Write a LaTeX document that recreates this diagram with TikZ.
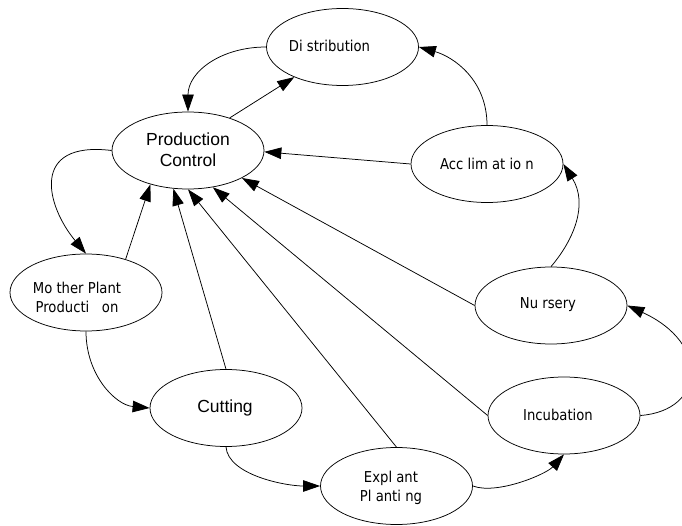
\documentclass[tikz,border=0pt]{standalone}
\usepackage{fontspec}
\usetikzlibrary{shapes.geometric,arrows.meta}
\newfontfamily\arialf{Liberation Sans}
\newfontfamily\tahf[FakeStretch=0.88]{DejaVu Sans}
\begin{document}
\begin{tikzpicture}[x=1pt,y=-1pt,
  ell/.style={draw,ellipse,line width=0.75pt,minimum width=152pt,minimum height=77pt,inner sep=0pt},
  biglab/.style={font=\arialf\fontsize{17.5}{21}\selectfont,align=center,inner sep=0pt},
  smlab/.style={font=\tahf\fontsize{15}{19}\selectfont,align=center,inner sep=0pt},
  conn/.style={line width=0.75pt,-{Triangle[length=17pt,width=11.5pt]}}]
\useasboundingbox (0,0) rectangle (682,526);
\clip (0,0) rectangle (682,526);
% ellipses
\node[ell] (pc)   at (188,150.5) {};
\node[ell] (dist) at (342.5,47) {};
\node[ell] (accl) at (487,164) {};
\node[ell] (mp)   at (86,292.5) {};
\node[ell] (cut)  at (226,408) {};
\node[ell] (nurs) at (551,305.5) {};
\node[ell] (inc)  at (564,415.5) {};
\node[ell] (ep)   at (396.5,486) {};
% labels
\node[biglab] (pct)   at (188,150) {Production\\Control};
\node[biglab] (cutt)  at (225,408) {Cutting};
\node[smlab]  (distt) at (329.5,46) {Di stribution};
\node[smlab]  (acclt) at (487,164) {Acc lim at io n};
\node[smlab]  (mpt)   at (77,297) {Mo ther Plant\\Producti\ \ \ on};
\node[smlab]  (nurst) at (548,305) {Nu rsery};
\node[smlab]  (inct)  at (558,415) {Incubation};
\node[smlab]  (ept)   at (391,488) {Expl ant\\Pl anti ng};
% straight connectors into Production Control
\draw[conn] (mp.40.8)  -- (pc.-138.5);
\draw[conn] (cut.90)   -- (pc.-111.3);
\draw[conn] (ep.90)    -- (pc.-90);
\draw[conn] (inc.180)  -- (pc.-56.3);
\draw[conn] (nurs.180) -- (pc.-27);
\draw[conn] (accl.180) -- (pc.-1);
\draw[conn] (pc.38.6)  -- (dist.-148);
% curved connectors
\draw[conn] (dist.180) .. controls +(-45,0) and +(0,-40) .. (pc.90);
\draw[conn] (accl.90) .. controls +(0,-45) and +(35,10) .. (dist.0);
\draw[conn] (nurs.90) .. controls +(23,-27) and +(25,40) .. (accl.0);
\draw[conn] (inc.0) .. controls +(65,-5) and +(83,38) .. (nurs.0);
\draw[conn] (pc.180) .. controls +(-82,-10) and +(-40,-48) .. (mp.90);
\draw[conn] (mp.-90) .. controls +(0,44) and +(-34,-3) .. (cut.180);
\draw[conn] (cut.-90) .. controls +(2,28) and +(-35,0) .. (ep.180);
\draw[conn] (ep.0) .. controls +(24,9) and +(-18,20) .. (inc.-90);
\end{tikzpicture}
\end{document}
